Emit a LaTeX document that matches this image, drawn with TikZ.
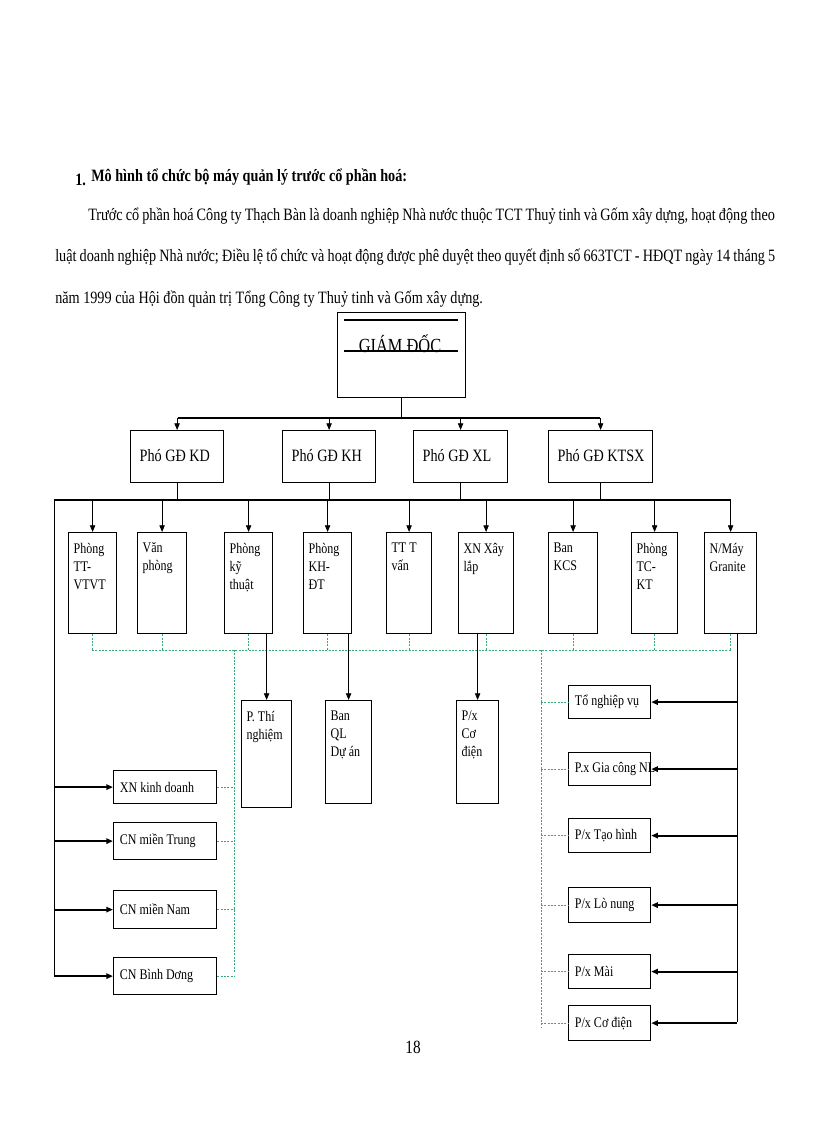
\documentclass[tikz,border=0pt]{standalone}
\usepackage{fontspec}
\setmainfont{Liberation Serif}[FakeStretch=0.82]
\usetikzlibrary{arrows.meta}
\definecolor{dgreen}{RGB}{60,170,120}
\tikzset{
 box/.style={draw,line width=0.9pt,inner sep=0pt},
 txt/.style={inner sep=0pt,align=left,font=\fontsize{11}{13.5}\selectfont},
 big/.style={inner sep=0pt,font=\fontsize{13}{15}\selectfont},
 arr/.style={-{Triangle[length=5pt,width=4pt]},line width=0.6pt},
 harr/.style={-{Triangle[length=5pt,width=4pt]},line width=1.4pt},
 bus/.style={line width=1.5pt},
 ln/.style={line width=0.6pt},
 gd/.style={dgreen,line width=0.6pt,dash pattern=on 1.5pt off 1pt}
}
\newcommand\bx[6]{\node[box,minimum width=#4*0.75pt,minimum height=#5*0.75pt,anchor=north west] (#1) at (#2,#3) {};
 \node[txt,anchor=north west] at ([xshift=4pt,yshift=-8pt]#1.north west) {#6};}
\newcommand\smbx[6]{\node[box,minimum width=#4*0.75pt,minimum height=#5*0.75pt,anchor=north west] (#1) at (#2,#3) {};
 \node[txt,anchor=west] at ([xshift=5pt]#1.west) {#6};}
\begin{document}
\begin{tikzpicture}[x=0.75pt,y=-0.75pt]
\useasboundingbox (0,0) rectangle (816,1123);
% heading
\node[anchor=base west,inner sep=0pt,font=\fontsize{13}{15}\selectfont\bfseries] (h1) at (75,186) {1.};
\node[anchor=base west,inner sep=0pt,font=\fontsize{13}{15}\selectfont\bfseries] (h2) at (91,182) {Mô hình tổ chức bộ máy quản lý trước cổ phần hoá:};
\node[anchor=base west,inner sep=0pt,font=\fontsize{13}{15}\selectfont] (p1) at (88,220) {\makebox[515pt][s]{Trước cổ phần hoá Công ty Thạch Bàn là doanh nghiệp Nhà nước thuộc TCT Thuỷ tinh và Gốm xây dựng, hoạt động theo}};
\node[anchor=base west,inner sep=0pt,font=\fontsize{13}{15}\selectfont] (p2) at (55,261) {\makebox[540pt][s]{luật doanh nghiệp Nhà nước; Điều lệ tổ chức và hoạt động được phê duyệt theo quyết định số 663TCT - HĐQT ngày 14 tháng 5}};
\node[anchor=base west,inner sep=0pt,font=\fontsize{13}{15}\selectfont] (p3) at (55,303) {năm 1999 của Hội đồn quản trị Tổng Công ty Thuỷ tinh và Gốm xây dựng.};
% director
\node[box,minimum width=128*0.75pt,minimum height=85*0.75pt,anchor=north west] (gd) at (337,312) {};
\draw[line width=1.2pt] (344,320) -- (458,320);
\draw[line width=1.2pt] (344,351) -- (458,351);
\node[inner sep=0pt,font=\fontsize{15}{17}\selectfont,anchor=base] (gdt) at (400,352) {GIÁM ĐỐC};
% deputies
\foreach \n/\x/\w/\t in {kd/130/93/Phó GĐ KD,kh/282/93/Phó GĐ KH,xl/413/94/Phó GĐ XL,kt/548/104/Phó GĐ KTSX}{
 \node[box,minimum width=\w*0.75pt,minimum height=52*0.75pt,anchor=north west] (\n) at (\x,430) {};
 \node[big,anchor=west] at ([xshift=7pt,yshift=1pt]\n.west) {\t};}
\coordinate (b1) at (178,418);
\coordinate (b1r) at (600,418);
\draw[ln] (gd.south) -- (gd.south |- b1);
\draw[bus] (b1) -- (b1r);
\foreach \n in {kd,kh,xl,kt} \draw[arr] (\n.north |- b1) -- (\n.north);
% second bus
\coordinate (b2) at (54,500);
\coordinate (b2r) at (731,500);
\draw[bus] (b2) -- (b2r);
\foreach \n in {kd,kh,xl,kt} \draw[ln] (\n.south) -- (\n.south |- b2);
% department row
\bx{d1}{68}{532}{48}{101}{Phòng\\TT-\\VTVT}
\bx{d2}{137}{532}{49}{101}{Văn\\phòng}
\bx{d3}{224}{532}{48}{101}{Phòng\\kỹ\\thuật}
\bx{d4}{303}{532}{48}{101}{Phòng\\KH-\\ĐT}
\bx{d5}{386}{532}{45}{101}{TT T\\vấn}
\bx{d6}{458}{532}{55}{101}{XN Xây\\lắp}
\bx{d7}{548}{532}{49}{101}{Ban\\KCS}
\bx{d8}{631}{532}{46}{101}{Phòng\\TC-\\KT}
\bx{d9}{704}{532}{52}{101}{N/Máy\\Granite}
\foreach \n in {d1,d2,d3,d4,d5,d6,d7,d8,d9} \draw[arr] (\n.north |- b2) -- (\n.north);
% green dashed network
\coordinate (g1) at (92,650);
\coordinate (g2) at (731,650);
\draw[gd] (g1) -- (g2);
\foreach \n in {d1,d2,d3,d4,d5,d6,d7,d8,d9} \draw[gd] (\n.south) -- (\n.south |- g1);
\coordinate (gl) at (234,650);
\coordinate (glb) at (234,973);
\coordinate (gr) at (541,650);
\coordinate (grb) at (541,1027);
\draw[gd] (gl) -- (glb);
\draw[gd] (gr) -- (grb);
% middle boxes
\bx{m1}{241}{700}{50}{107}{P. Thí\\nghiệm}
\bx{m2}{325}{700}{46}{103}{Ban\\QL\\Dự án}
\bx{m3}{456}{700}{42}{103}{P/x\\Cơ\\điện}
\draw[arr] (m1.north |- d3.south) -- (m1.north);
\draw[arr] (m2.north |- d4.south) -- (m2.north);
\draw[arr] (m3.north |- d6.south) -- (m3.north);
% left boxes
\smbx{l1}{113}{770}{103}{33}{XN kinh doanh}
\smbx{l2}{113}{822}{103}{37}{CN miền Trung}
\smbx{l3}{113}{890}{103}{38}{CN miền Nam}
\smbx{l4}{113}{957}{103}{37}{CN Bình Dơng}
\coordinate (lb) at (54,976);
\draw[ln] (b2) -- (lb);
\foreach \n in {l1,l2,l3,l4} {\draw[harr] (\n.west -| b2) -- (\n.west); \draw[gd] (\n.east) -- (\n.east -| gl);}
% right boxes
\smbx{r1}{568}{685}{82}{33}{Tổ nghiệp vụ}
\smbx{r2}{568}{752}{82}{33}{P.x Gia công NL}
\smbx{r3}{568}{818}{82}{34}{P/x Tạo hình}
\smbx{r4}{568}{887}{82}{35}{P/x Lò nung}
\smbx{r5}{568}{954}{82}{34}{P/x Mài}
\smbx{r6}{568}{1005}{82}{35}{P/x Cơ điện}
\coordinate (rt) at (737,633);
\coordinate (rb) at (737,1022);
\draw[ln] (rt) -- (rb);
\foreach \n in {r1,r2,r3,r4,r5,r6} {\draw[harr] (\n.east -| rt) -- (\n.east); \draw[gd] (\n.west -| gr) -- (\n.west);}
\node[inner sep=0pt,font=\fontsize{14}{16}\selectfont] (pg) at (413,1047) {18};
\end{tikzpicture}
\end{document}
